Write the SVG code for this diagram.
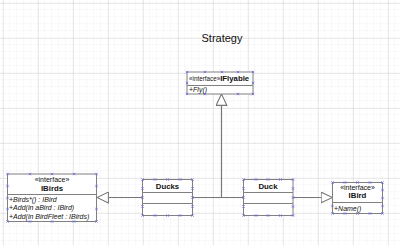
<svg xmlns="http://www.w3.org/2000/svg" width="400" height="245" viewBox="0 0 400 245">
<defs>
<pattern id="minor" width="7" height="7" patternUnits="userSpaceOnUse">
<path d="M7 0V7M0 7H7" fill="none" stroke="#e2e2e2" stroke-width="0.7" stroke-dasharray="1.2 1"/>
</pattern>
<pattern id="major" width="35" height="35" patternUnits="userSpaceOnUse" x="3" y="3">
<rect width="35" height="35" fill="url(#minor)"/>
<path d="M0 0V35M0 0H35" fill="none" stroke="#d0d0d0" stroke-width="0.9"/>
</pattern>
<marker id="tri" markerWidth="12" markerHeight="12" refX="10" refY="5" orient="auto" markerUnits="userSpaceOnUse" viewBox="0 0 10 10">
<path d="M0.5 0.5L10 5L0.5 9.5Z" fill="#fff" stroke="#777" stroke-width="0.9"/>
</marker>
<g id="pt"><path d="M-1.2 -1.2L1.2 1.2M-1.2 1.2L1.2 -1.2" stroke="#6b6bf0" stroke-width="0.8"/></g>
</defs>
<style>
.box{fill:#fff;stroke:#808080;stroke-width:1}
.div{stroke:#808080;stroke-width:1}
.t{font-family:"Liberation Sans",Arial,sans-serif;fill:#111}
.s{font-size:7px}
.b{font-size:7.8px;font-weight:bold}
.i{font-size:7px;font-style:italic}
.conn{fill:none;stroke:#777;stroke-width:1.2}
</style>
<rect width="400" height="245" fill="#fff"/>
<rect width="400" height="245" fill="url(#major)"/>
<text class="t" x="222" y="42" font-size="11" text-anchor="middle">Strategy</text>

<g id="connectors">
<path class="conn" d="M221.5 197.5V94" marker-end="url(#tri)"/>
<path class="conn" d="M192.5 197.5H243.5"/>
<path class="conn" d="M142.5 197.5H97" marker-end="url(#tri)"/>
<path class="conn" d="M293 197.5H332.5" marker-end="url(#tri)"/>
</g>

<g id="IFlyable">
<rect class="box" x="187" y="72" width="66" height="22"/>
<line class="div" x1="187" y1="85.5" x2="253" y2="85.5"/>
<text class="t s" x="189" y="81"><tspan font-size="6.3">«interface»</tspan><tspan class="b" font-size="7.5">IFlyable</tspan></text>
<text class="t s" x="189" y="92"><tspan>+</tspan><tspan font-style="italic">Fly()</tspan></text>
<use href="#pt" x="187" y="72"/><use href="#pt" x="205" y="72"/><use href="#pt" x="222" y="72"/><use href="#pt" x="238" y="72"/><use href="#pt" x="253" y="72"/>
<use href="#pt" x="187" y="94"/><use href="#pt" x="205" y="94"/><use href="#pt" x="238" y="94"/><use href="#pt" x="253" y="94"/>
<use href="#pt" x="187" y="83"/><use href="#pt" x="253" y="83"/>
</g>

<g id="IBirds">
<rect class="box" x="7.5" y="174" width="89" height="47.5"/>
<line class="div" x1="7.5" y1="194.5" x2="96.5" y2="194.5"/>
<text class="t s" x="52" y="182" text-anchor="middle" font-size="6.3">«interface»</text>
<text class="t b" x="52" y="190.5" text-anchor="middle">IBirds</text>
<text class="t s" x="9" y="201.5">+<tspan font-style="italic">Birds*() : IBird</tspan></text>
<text class="t s" x="9" y="210">+<tspan font-style="italic">Add(in aBird : IBird)</tspan></text>
<text class="t s" x="9" y="218.5">+<tspan font-style="italic">Add(in BirdFleet : IBirds)</tspan></text>
<use href="#pt" x="7.5" y="174"/><use href="#pt" x="30" y="174"/><use href="#pt" x="52" y="174"/><use href="#pt" x="74" y="174"/><use href="#pt" x="96.5" y="174"/>
<use href="#pt" x="7.5" y="221.5"/><use href="#pt" x="30" y="221.5"/><use href="#pt" x="52" y="221.5"/><use href="#pt" x="74" y="221.5"/><use href="#pt" x="96.5" y="221.5"/>
<use href="#pt" x="7.5" y="186"/><use href="#pt" x="7.5" y="198"/><use href="#pt" x="7.5" y="209"/>
<use href="#pt" x="96.5" y="186"/><use href="#pt" x="96.5" y="209"/>
</g>

<g id="Ducks">
<rect class="box" x="142.5" y="179.5" width="50" height="36"/>
<line class="div" x1="142.5" y1="192.5" x2="192.5" y2="192.5"/>
<line class="div" x1="142.5" y1="203.5" x2="192.5" y2="203.5" stroke-width="2"/>
<text class="t b" x="167.5" y="188.8" text-anchor="middle">Ducks</text>
<use href="#pt" x="142.5" y="179.5"/><use href="#pt" x="155" y="179.5"/><use href="#pt" x="167.5" y="179.5"/><use href="#pt" x="180" y="179.5"/><use href="#pt" x="192.5" y="179.5"/>
<use href="#pt" x="142.5" y="215.5"/><use href="#pt" x="155" y="215.5"/><use href="#pt" x="167.5" y="215.5"/><use href="#pt" x="180" y="215.5"/><use href="#pt" x="192.5" y="215.5"/>
<use href="#pt" x="142.5" y="188.5"/><use href="#pt" x="142.5" y="197.5"/><use href="#pt" x="142.5" y="206.5"/>
<use href="#pt" x="192.5" y="188.5"/><use href="#pt" x="192.5" y="197.5"/><use href="#pt" x="192.5" y="206.5"/>
</g>

<g id="Duck">
<rect class="box" x="243.5" y="179.5" width="49.5" height="36"/>
<line class="div" x1="243.5" y1="192.5" x2="293" y2="192.5"/>
<line class="div" x1="243.5" y1="203.5" x2="293" y2="203.5" stroke-width="2"/>
<text class="t b" x="268" y="188.8" text-anchor="middle">Duck</text>
<use href="#pt" x="243.5" y="179.5"/><use href="#pt" x="256" y="179.5"/><use href="#pt" x="268" y="179.5"/><use href="#pt" x="280.5" y="179.5"/><use href="#pt" x="293" y="179.5"/>
<use href="#pt" x="243.5" y="215.5"/><use href="#pt" x="256" y="215.5"/><use href="#pt" x="268" y="215.5"/><use href="#pt" x="280.5" y="215.5"/><use href="#pt" x="293" y="215.5"/>
<use href="#pt" x="243.5" y="188.5"/><use href="#pt" x="243.5" y="197.5"/><use href="#pt" x="243.5" y="206.5"/>
<use href="#pt" x="293" y="188.5"/><use href="#pt" x="293" y="197.5"/><use href="#pt" x="293" y="206.5"/>
</g>

<g id="IBird">
<rect class="box" x="332.5" y="182.5" width="50" height="31"/>
<line class="div" x1="332.5" y1="202.5" x2="382.5" y2="202.5"/>
<text class="t s" x="357.5" y="189.5" text-anchor="middle" font-size="6.3">«interface»</text>
<text class="t b" x="357.5" y="198" text-anchor="middle">IBird</text>
<text class="t s" x="334" y="210.5">+<tspan font-style="italic">Name()</tspan></text>
<use href="#pt" x="332.5" y="182.5"/><use href="#pt" x="345" y="182.5"/><use href="#pt" x="357.5" y="182.5"/><use href="#pt" x="370" y="182.5"/><use href="#pt" x="382.5" y="182.5"/>
<use href="#pt" x="332.5" y="213.5"/><use href="#pt" x="345" y="213.5"/><use href="#pt" x="357.5" y="213.5"/><use href="#pt" x="370" y="213.5"/><use href="#pt" x="382.5" y="213.5"/>
<use href="#pt" x="382.5" y="190"/><use href="#pt" x="382.5" y="198"/><use href="#pt" x="382.5" y="206"/>
<use href="#pt" x="332.5" y="206"/>
</g>
</svg>
